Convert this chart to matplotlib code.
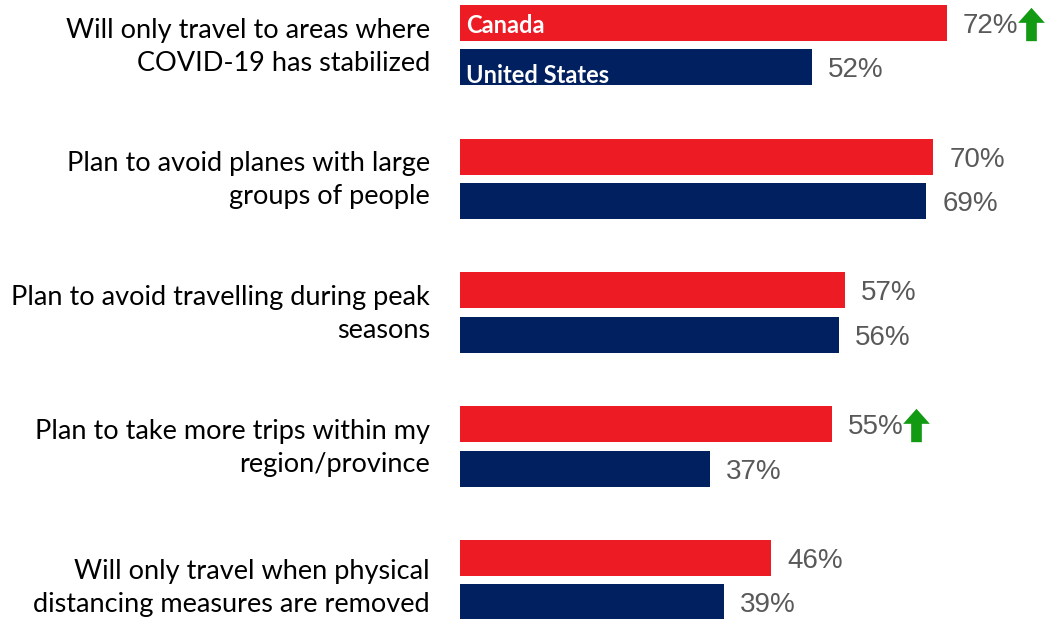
import matplotlib
matplotlib.use('Agg')
import matplotlib.pyplot as plt
import matplotlib.transforms as mtrans
from matplotlib.path import Path
import numpy as np

# --- data ---
statements = ['Will only travel to areas where\nCOVID-19 has stabilized',
              'Plan to avoid planes with large\ngroups of people',
              'Plan to avoid travelling during peak\nseasons',
              'Plan to take more trips within my\nregion/province',
              'Will only travel when physical\ndistancing measures are removed']
canada = [72, 70, 57, 55, 46]
usa = [52, 69, 56, 37, 39]
canada_up = [True, False, False, True, False]  # significant increase markers

RED = '#ED1C24'
NAVY = '#002060'
GREY = '#595959'
GREEN = '#129A12'

fg = plt.figure(figsize=(10.46, 6.19), dpi=100)
W, H = 1046, 619
ax = fg.add_axes([460 / W, 0, 1 - 460 / W, 1])
ax.set_xlim(0, (W - 460) / 6.76)
ax.set_ylim(4.291, -0.338)
ax.axis('off')

y = np.arange(len(statements))
off = 0.166
bh = 0.27
bars_ca = ax.barh(y - off, canada, height=bh, color=RED, edgecolor='none')
bars_us = ax.barh(y + off, usa, height=bh, color=NAVY, edgecolor='none')

# value labels
lab_tr = mtrans.offset_copy(ax.transData, fig=fg, x=16, y=-3, units='dots')
for i in range(len(statements)):
    ax.text(canada[i], y[i] - off, '%d%%' % canada[i], transform=lab_tr,
            ha='left', va='center', fontsize=20, color=GREY, family='Liberation Sans')
    ax.text(usa[i], y[i] + off, '%d%%' % usa[i], transform=lab_tr,
            ha='left', va='center', fontsize=20, color=GREY, family='Liberation Sans')

# green up arrows
arrow = Path([(-0.4, 0.05), (0, 0.5), (0.4, 0.05), (0.16, 0.05), (0.16, -0.5),
              (-0.16, -0.5), (-0.16, 0.05), (-0.4, 0.05)],
             [Path.MOVETO] + [Path.LINETO] * 6 + [Path.CLOSEPOLY])
arr_tr = mtrans.offset_copy(ax.transData, fig=fg, x=84, y=-1, units='dots')
for i in range(len(statements)):
    if canada_up[i]:
        ax.plot(canada[i], y[i] - off, marker=arrow, markersize=24, color=GREEN,
                markeredgewidth=0, transform=arr_tr, clip_on=False)

# category labels left of bars
cat_tr = mtrans.offset_copy(ax.transData, fig=fg, x=-30, y=0, units='dots')
for i, s in enumerate(statements):
    ax.text(0, y[i] + 0.01 + (0.05 if i == len(statements) - 1 else 0), s,
            transform=cat_tr, ha='right', va='center',
            fontsize=19.5, color='black', family='Lato', linespacing=1.4)

# series names inside the first pair of bars
in_tr = mtrans.offset_copy(ax.transData, fig=fg, x=6, y=0, units='dots')
t1 = ax.text(0, y[0] - off + 0.02, 'Canada', transform=in_tr, ha='left', va='center',
             fontsize=17, color='white', fontweight='bold', family='Lato')
t2 = ax.text(0, y[0] + off + 0.06, 'United States', transform=in_tr, ha='left', va='center',
             fontsize=17, color='white', fontweight='bold', family='Lato')
t2.set_clip_path(bars_us[0])

fg.savefig('out.png', dpi=100)
